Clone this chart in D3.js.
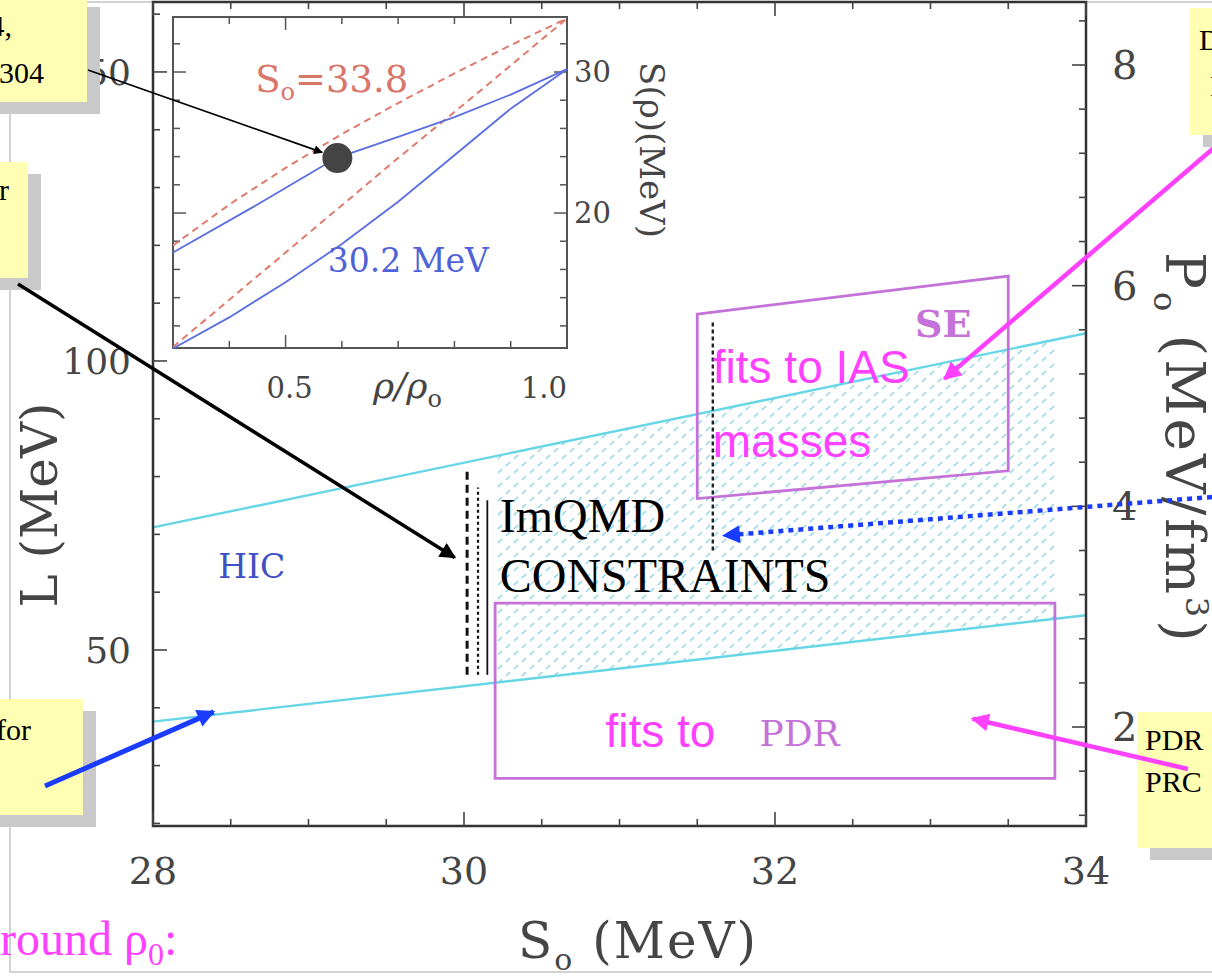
<!DOCTYPE html>
<html>
<head>
<meta charset="utf-8">
<script src="https://cdn.jsdelivr.net/npm/d3@7"></script>
<style>
body { margin: 0; background: #fff; }
svg { display: block; }
</style>
</head>
<body>
<svg id="chart" width="1212" height="977"></svg>
<script>
// ---- main panel: L (MeV) vs S0 (MeV), right axis P0 ----
var sTicks = [28, 30, 32, 34];
var lTicks = [50, 100, 150];
var pTicks = [2, 4, 6, 8];
var cyanUpper = [[28, 71.2], [34, 104.8]];
var cyanLower = [[28, 37.6], [34, 56.0]];
var hatchRange = [30.2, 33.8];
var seBox = [[31.5, 108.1], [33.5, 114.7], [33.5, 81.0], [31.5, 76.2]];
var pdrBox = [[30.2, 58.1], [33.8, 58.1], [33.8, 27.8], [30.2, 27.8]];
// ImQMD vertical constraint marks: S0, L bottom, L top
var qmdMarks = [[30.02, 45.7, 81.0], [30.09, 45.7, 78.1], [30.15, 45.7, 75.9]];
var iasMark = [31.6, 67.2, 106.9];

// ---- inset: S(rho) vs rho/rho0 ----
var rhoTicks = [0.5, 1.0];
var symTicks = [20, 30];
var redUpper = [[0.3, 17.7], [0.4, 20.6], [0.5, 23.2], [0.6, 25.6], [0.7, 27.8], [0.8, 29.9], [0.9, 31.9], [1.0, 33.8]];
var redLower = [[0.3, 10.5], [0.5, 17.2], [0.7, 23.9], [0.85, 28.8], [1.0, 33.8]];
var blueUpper = [[0.3, 17.2], [0.45, 20.6], [0.59, 23.9], [0.7, 25.4], [0.8, 26.8], [0.9, 28.4], [1.0, 30.2]];
var blueLower = [[0.3, 10.4], [0.4, 12.6], [0.5, 15.1], [0.6, 17.8], [0.7, 20.8], [0.8, 24.1], [0.9, 27.4], [1.0, 30.2]];
var crossPoint = [0.592, 23.9];

var fig = "'DejaVu Serif', serif";
var serif = "'Liberation Serif', 'Times New Roman', serif";
var sans = "'Liberation Sans', Arial, sans-serif";

var svg = d3.select("#chart");
var m = {left: 153, top: 2, right: 1086, bottom: 826};

var x = d3.scaleLinear().domain([28, 34]).range([m.left, m.right]);
var yL = d3.scaleLinear().domain([19.55, 162.1]).range([m.bottom, m.top]);
var yP = d3.scaleLinear().domain([1.103, 8.571]).range([m.bottom, m.top]);

var defs = svg.append("defs");
var pat = defs.append("pattern").attr("id", "hatch")
	.attr("patternUnits", "userSpaceOnUse")
	.attr("width", 16).attr("height", 14);
pat.append("line").attr("x1", 2).attr("y1", 11).attr("x2", 6).attr("y2", 7)
	.style("stroke", "#86d3e6").style("stroke-width", 1.3);
pat.append("line").attr("x1", 10).attr("y1", 4).attr("x2", 14).attr("y2", 0)
	.style("stroke", "#86d3e6").style("stroke-width", 1.3);
defs.append("clipPath").attr("id", "hclip").append("rect")
	.attr("x", x(hatchRange[0])).attr("y", m.top)
	.attr("width", x(hatchRange[1]) - x(hatchRange[0]))
	.attr("height", m.bottom - m.top);

function marker(id, col, w, h) {
	defs.append("marker").attr("id", id)
		.attr("viewBox", "0 0 10 10").attr("refX", 9).attr("refY", 5)
		.attr("markerUnits", "userSpaceOnUse")
		.attr("markerWidth", w).attr("markerHeight", h)
		.attr("orient", "auto")
		.append("path").attr("d", "M0,0 L10,5 L0,10 z").style("fill", col);
}
marker("ahBlack", "#000", 20, 16);
marker("ahThin", "#000", 12, 9);
marker("ahBlue", "#1a3cff", 22, 18);
marker("ahMag", "#ff40ff", 22, 18);

// slide border
svg.append("rect").attr("x", 10).attr("y", 2).attr("width", 1230).attr("height", 970)
	.style("fill", "none").style("stroke", "#c4c4c4").style("stroke-width", 1.5);

// hatched band between the two cyan lines
var band = d3.area()
	.x(function(d) { return x(d[0]); })
	.y0(function(d, i) { return yL(cyanLower[i][1]); })
	.y1(function(d) { return yL(d[1]); });
svg.append("path").datum(cyanUpper)
	.attr("d", band).attr("clip-path", "url(#hclip)")
	.style("fill", "url(#hatch)");

var lineL = d3.line().x(function(d) { return x(d[0]); }).y(function(d) { return yL(d[1]); });
[cyanUpper, cyanLower].forEach(function(c) {
	svg.append("path").datum(c).attr("d", lineL)
		.style("fill", "none").style("stroke", "#66d6e6").style("stroke-width", 2.4);
});

[seBox, pdrBox].forEach(function(b) {
	svg.append("path").datum(b).attr("d", lineL(b) + "Z")
		.style("fill", "none").style("stroke", "#c472d8").style("stroke-width", 2.8);
});

// ImQMD constraint marks
var qStyle = [["8 5", 3], ["3 3", 2.2], [null, 1.8]];
qmdMarks.forEach(function(q, i) {
	svg.append("line").attr("x1", x(q[0])).attr("x2", x(q[0]))
		.attr("y1", yL(q[1])).attr("y2", yL(q[2]))
		.style("stroke", "#111").style("stroke-width", qStyle[i][1])
		.style("stroke-dasharray", qStyle[i][0]);
});
svg.append("line").attr("x1", x(iasMark[0])).attr("x2", x(iasMark[0]))
	.attr("y1", yL(iasMark[1])).attr("y2", yL(iasMark[2]))
	.style("stroke", "#222").style("stroke-width", 2.4).style("stroke-dasharray", "4 3");

// frame + ticks
svg.append("rect").attr("x", m.left).attr("y", m.top)
	.attr("width", m.right - m.left).attr("height", m.bottom - m.top)
	.style("fill", "none").style("stroke", "#333").style("stroke-width", 2.5);

var tk = svg.append("g").style("stroke", "#444").style("stroke-width", 1.6);
d3.range(28, 34.01, 0.5).forEach(function(s) {
	var len = sTicks.indexOf(s) >= 0 ? 14 : 7;
	tk.append("line").attr("x1", x(s)).attr("x2", x(s)).attr("y1", m.bottom).attr("y2", m.bottom - len);
	tk.append("line").attr("x1", x(s)).attr("x2", x(s)).attr("y1", m.top).attr("y2", m.top + len);
});
d3.range(20, 161, 10).forEach(function(l) {
	var len = lTicks.indexOf(l) >= 0 ? 14 : 7;
	tk.append("line").attr("x1", m.left).attr("x2", m.left + len).attr("y1", yL(l)).attr("y2", yL(l));
});
d3.range(1.2, 8.6, 0.4).forEach(function(p) {
	var major = pTicks.some(function(t) { return Math.abs(t - p) < 1e-6; });
	var len = major ? 14 : 7;
	tk.append("line").attr("x1", m.right).attr("x2", m.right - len).attr("y1", yP(p)).attr("y2", yP(p));
});

var lab = svg.append("g").style("font-family", fig).style("fill", "#454545");
sTicks.forEach(function(s) {
	lab.append("text").attr("x", x(s)).attr("y", 884).attr("text-anchor", "middle")
		.style("font-size", "38px").text(s);
});
lTicks.forEach(function(l) {
	lab.append("text").attr("x", 131).attr("y", yL(l)).attr("dy", "0.35em")
		.attr("text-anchor", "end").style("font-size", "36px").text(l);
});
pTicks.forEach(function(p) {
	lab.append("text").attr("x", 1112).attr("y", yP(p)).attr("dy", "0.35em")
		.style("font-size", "40px").text(p);
});

// axis titles
var bt = lab.append("text").attr("x", 518).attr("y", 958)
	.style("font-size", "50px").style("letter-spacing", "2px");
bt.append("tspan").text("S");
bt.append("tspan").attr("dy", 12).style("font-size", "30px").text("o");
bt.append("tspan").attr("dy", -12).text(" (MeV)");

lab.append("text").attr("transform", "translate(57,505) rotate(-90)")
	.attr("text-anchor", "middle").style("font-size", "50px").text("L (MeV)");

var rt = lab.append("text").attr("transform", "translate(1166,252) rotate(90)")
	.style("font-size", "55px").style("letter-spacing", "3px");
rt.append("tspan").text("P");
rt.append("tspan").attr("dy", 12).style("font-size", "32px").text("o");
rt.append("tspan").attr("dy", -12).text(" (MeV/fm");
rt.append("tspan").attr("dy", -20).style("font-size", "32px").text("3");
rt.append("tspan").attr("dy", 20).text(")");

// labels inside the plot
function tx(s, l, str, size, col, fam) {
	return svg.append("text").attr("x", x(s)).attr("y", yL(l))
		.style("font-family", fam).style("font-size", size + "px").style("fill", col).text(str);
}
tx(28.42, 62.5, "HIC", 33, "#3f4fc4", fig);
tx(32.9, 104.2, "SE", 38, "#c472d8", fig).style("font-weight", "bold");
tx(31.9, 33.4, "PDR", 36, "#c472d8", fig);
tx(30.23, 70.4, "ImQMD", 48, "#000", serif);
tx(30.23, 60.0, "CONSTRAINTS", 48, "#000", serif);
tx(31.6, 96.2, "fits to IAS", 46, "#ff40ff", sans);
tx(31.6, 83.4, "masses", 46, "#ff40ff", sans);
tx(30.91, 33.2, "fits to", 46, "#ff40ff", sans);

// ---- inset ----
var ix = d3.scaleLinear().domain([0.3, 1.0]).range([173, 567]);
var iy = d3.scaleLinear().domain([10.43, 33.9]).range([348, 17]);
svg.append("rect").attr("x", 173).attr("y", 17).attr("width", 394).attr("height", 331)
	.style("fill", "#fff").style("stroke", "#555").style("stroke-width", 2);

var it = svg.append("g").style("stroke", "#555").style("stroke-width", 1.5);
d3.range(0.4, 0.95, 0.1).forEach(function(r) {
	var len = Math.abs(r - 0.5) < 1e-6 ? 13 : 7;
	it.append("line").attr("x1", ix(r)).attr("x2", ix(r)).attr("y1", 348).attr("y2", 348 - len);
	it.append("line").attr("x1", ix(r)).attr("x2", ix(r)).attr("y1", 17).attr("y2", 17 + len);
});
d3.range(12, 33, 2).forEach(function(s) {
	var len = symTicks.indexOf(s) >= 0 ? 13 : 7;
	it.append("line").attr("x1", 567).attr("x2", 567 - len).attr("y1", iy(s)).attr("y2", iy(s));
	it.append("line").attr("x1", 173).attr("x2", 173 + len).attr("y1", iy(s)).attr("y2", iy(s));
});

var iline = d3.line().x(function(d) { return ix(d[0]); }).y(function(d) { return iy(d[1]); });
[redUpper, redLower].forEach(function(c) {
	svg.append("path").datum(c).attr("d", iline)
		.style("fill", "none").style("stroke", "#e07a6c").style("stroke-width", 2)
		.style("stroke-dasharray", "7 5");
});
[blueUpper, blueLower].forEach(function(c) {
	svg.append("path").datum(c).attr("d", iline)
		.style("fill", "none").style("stroke", "#5a6ee0").style("stroke-width", 1.8);
});
svg.append("circle").attr("cx", ix(crossPoint[0])).attr("cy", iy(crossPoint[1])).attr("r", 15)
	.style("fill", "#444");

var il = svg.append("g").style("font-family", fig).style("fill", "#454545").style("font-size", "29px");
il.append("text").attr("x", ix(0.5) + 4).attr("y", 398).attr("text-anchor", "middle").text("0.5");
il.append("text").attr("x", ix(1.0)).attr("y", 398).attr("text-anchor", "end").text("1.0");
symTicks.forEach(function(s) {
	il.append("text").attr("x", 574).attr("y", iy(s)).attr("dy", "0.35em").text(s);
});
var rr = il.append("text").attr("x", 373).attr("y", 398)
	.style("font-style", "italic").style("font-size", "36px");
rr.append("tspan").text("ρ/ρ");
rr.append("tspan").attr("dy", 9).style("font-size", "24px").style("font-style", "normal").text("o");
il.append("text").attr("transform", "translate(640,150) rotate(90)")
	.attr("text-anchor", "middle").style("font-size", "34px").text("S(ρ)(MeV)");

var so = svg.append("text").attr("x", ix(0.446)).attr("y", iy(28.6))
	.style("font-family", fig).style("font-size", "37px").style("fill", "#d9766a");
so.append("tspan").text("S");
so.append("tspan").attr("dy", 8).style("font-size", "24px").text("o");
so.append("tspan").attr("dy", -8).text("=33.8");
svg.append("text").attr("x", ix(0.575)).attr("y", iy(15.8))
	.style("font-family", fig).style("font-size", "33px").style("fill", "#4f63d8").text("30.2 MeV");

// ---- sticky notes (cropped at the page edge) ----
var notes = [
	{x: -20, y: -5, w: 107, h: 107, lines: [["4,", 12, 36], ["304", 44, 83]], anchor: "end"},
	{x: -20, y: 162, w: 48, h: 116, lines: [["r", 9, 200]], anchor: "end"},
	{x: -20, y: 699, w: 103, h: 116, lines: [["for", 31, 740]], anchor: "end"},
	{x: 1190, y: 8, w: 40, h: 127, lines: [["D", 1199, 50], ["I", 1210, 96]], anchor: "start"},
	{x: 1137, y: 712, w: 90, h: 136, lines: [["PDR", 1145, 750], ["PRC", 1145, 792]], anchor: "start"}
];
notes.forEach(function(n) {
	svg.append("rect").attr("x", n.x + 13).attr("y", n.y + 12).attr("width", n.w).attr("height", n.h)
		.style("fill", "#c9c9c9");
	svg.append("rect").attr("x", n.x).attr("y", n.y).attr("width", n.w).attr("height", n.h)
		.style("fill", "#ffffb3");
	n.lines.forEach(function(t) {
		svg.append("text").attr("x", t[1]).attr("y", t[2]).attr("text-anchor", n.anchor)
			.style("font-family", serif).style("font-size", "30px").style("fill", "#000").text(t[0]);
	});
});

// bottom-left magenta text
var rb = svg.append("text").attr("x", 0).attr("y", 955)
	.style("font-family", serif).style("font-size", "48px").style("fill", "#ff40ff");
rb.append("tspan").text("round ρ");
rb.append("tspan").attr("dy", 10).style("font-size", "32px").text("0");
rb.append("tspan").attr("dy", -10).text(":");

// ---- arrows: tail in page pixels, head in data coords ----
function arrow(x0, y0, x1, y1, col, w, mk, dash) {
	svg.append("line").attr("x1", x0).attr("y1", y0).attr("x2", x1).attr("y2", y1)
		.style("stroke", col).style("stroke-width", w)
		.style("stroke-dasharray", dash || null)
		.attr("marker-end", "url(#" + mk + ")");
}
arrow(88, 70, ix(0.565), iy(24.3), "#000", 1.8, "ahThin");
arrow(18, 284, x(29.94), yL(66.0), "#000", 3.5, "ahBlack");
arrow(45, 786, x(28.39), yL(39.3), "#1a3cff", 5, "ahBlue");
arrow(1216, 146, x(33.09), yL(96.9), "#ff40ff", 4.5, "ahMag");
arrow(1188, 769, x(33.27), yL(38.1), "#ff40ff", 4.5, "ahMag");
arrow(1212, 497, x(31.67), yL(69.8), "#1a3cff", 4.5, "ahBlue", "5 5");
</script>
</body>
</html>
